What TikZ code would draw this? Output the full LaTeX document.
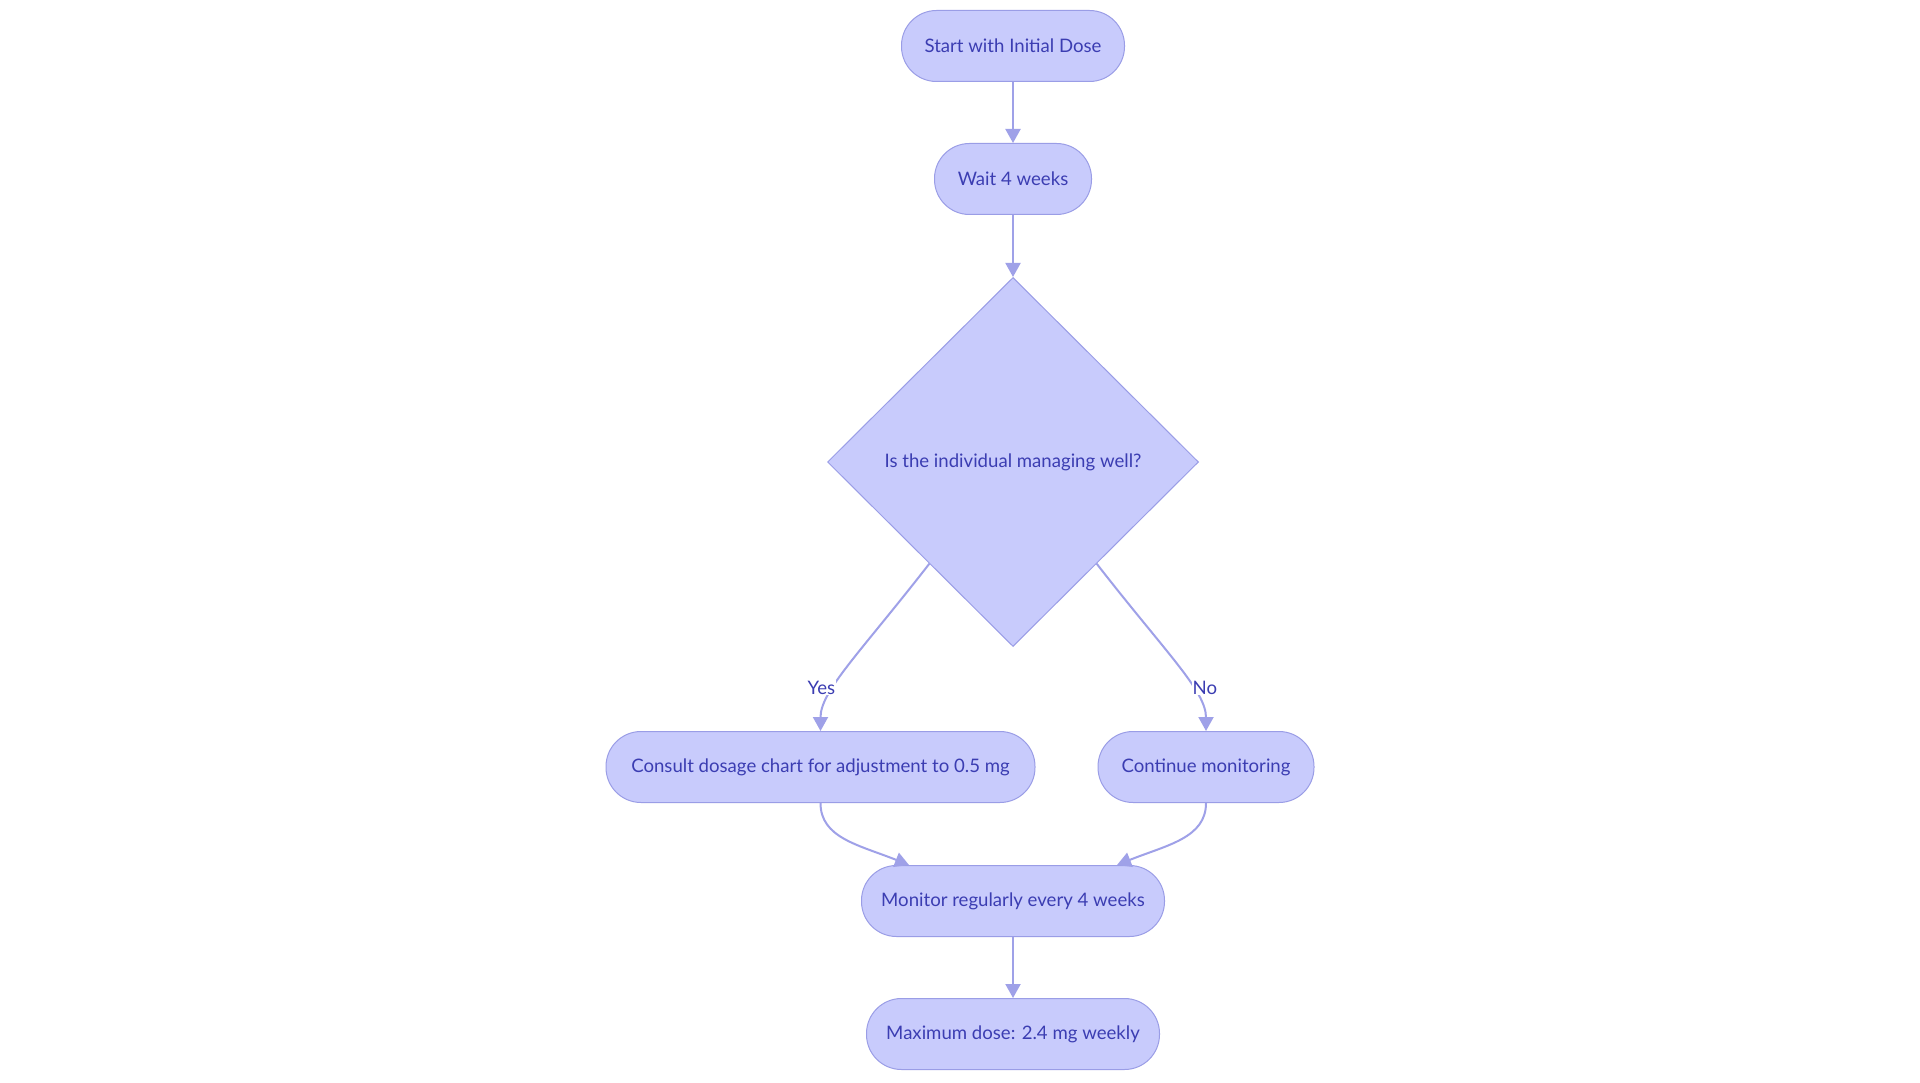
\documentclass[tikz,border=0pt]{standalone}
\usepackage{fontspec}
\setmainfont{Lato}
\usetikzlibrary{shapes.geometric,arrows.meta,calc}
\definecolor{boxfill}{HTML}{C8CBFC}
\definecolor{boxline}{HTML}{9A9DE6}
\definecolor{edgeline}{HTML}{9FA1E8}
\definecolor{boxtext}{HTML}{3B3DB2}
\begin{document}
\begin{tikzpicture}[x=1pt,y=-1pt,
  pill/.style={draw=boxline, line width=1pt, fill=boxfill, text=boxtext,
    rounded corners=35pt, minimum height=71pt, inner sep=0pt,
    font=\fontsize{18.6}{22}\selectfont},
  choice/.style={draw=boxline, line width=1pt, fill=boxfill, text=boxtext,
    diamond, minimum width=371pt, minimum height=369pt, inner sep=0pt,
    font=\fontsize{18.6}{22}\selectfont},
  flow/.style={draw=edgeline, line width=2pt, -{Triangle[length=14pt,width=15pt]}},
  answer/.style={fill=white, text=boxtext, inner sep=1pt,
    font=\fontsize{18.6}{22}\selectfont}]
\useasboundingbox[fill=white] (0,0) rectangle (1920,1083);
\node[pill, minimum width=223pt] (start) at (1013,46) {Start with Initial Dose};
\node[pill, minimum width=157pt] (wait) at (1013,179) {Wait 4 weeks};
\node[choice] (check) at (1013,462) {Is the individual managing well?};
\node[pill, minimum width=429pt] (consult) at (820.5,767) {Consult dosage chart for adjustment to 0.5 mg};
\node[pill, minimum width=216pt] (keepon) at (1206,767) {Continue monitoring};
\node[pill, minimum width=303pt] (monitor) at (1013,901) {Monitor regularly every 4 weeks};
\node[pill, minimum width=293pt] (maxdose) at (1013,1034) {Maximum dose: 2.4 mg weekly};

\draw[flow] (start) -- (wait);
\draw[flow] (wait) -- (check);
\draw[flow] ($(check.west)!0.55!(check.south)$) .. controls +(-70,90) and +(0,-40) ..
  node[answer, pos=0.65, xshift=-13pt] {Yes} (consult.north);
\draw[flow] ($(check.east)!0.55!(check.south)$) .. controls +(70,90) and +(0,-40) ..
  node[answer, pos=0.65, xshift=13pt] {No} (keepon.north);
\draw[flow] (consult.south) .. controls +(0,35) and +(-50,-20) .. ([xshift=-104pt]monitor.north);
\draw[flow] (keepon.south) .. controls +(0,35) and +(50,-20) .. ([xshift=104pt]monitor.north);
\draw[flow] (monitor) -- (maxdose);
\end{tikzpicture}
\end{document}
